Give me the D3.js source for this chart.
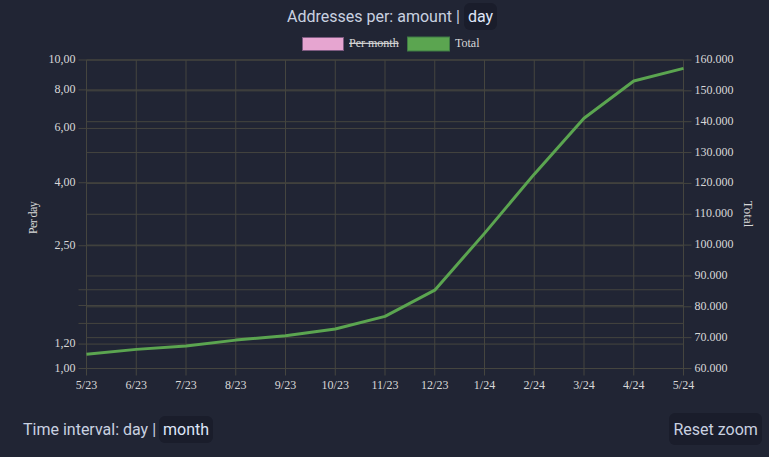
<!DOCTYPE html>
<html>
<head>
<meta charset="utf-8">
<script src="https://cdn.jsdelivr.net/npm/d3@7"></script>
<style>
html, body { margin: 0; padding: 0; background: #212534; overflow: hidden; }
svg { display: block; }
.ui { font-family: Roboto, sans-serif; font-size: 16px; fill: #c9d1e0; }
.ui.sel { fill: #dfe5f8; }
.tick text, .lab { font-family: "Liberation Serif", serif; font-size: 12px; fill: #d8d8d8; }
</style>
</head>
<body>
<div id="chart"></div>
<script>
// months on the x axis
var months = ["5/23","6/23","7/23","8/23","9/23","10/23","11/23","12/23","1/24","2/24","3/24","4/24","5/24"];
// total addresses
var totals = [64600,66200,67300,69200,70600,72800,76900,85400,103800,123000,141100,153200,157300];
// tick labels
var leftTicks = [10,8,6,4,2.5,1.8,1.6,1.4,1.2,1];
var leftLabelled = [10,8,6,4,2.5,1.2,1];
var rightTicks = [60000,70000,80000,90000,100000,110000,120000,130000,140000,150000,160000];

var W = 769, H = 457;
var left = 86.5, right = 683.5, top_ = 60, bottom = 368.5;
var gridColor = "#45453f";

var svg = d3.select("#chart").append("svg").attr("width", W).attr("height", H);

var x = d3.scalePoint().domain(months).range([left, right]);
var yL = d3.scaleLog().domain([1, 10]).range([bottom, top_]);
var yR = d3.scaleLinear().domain([60000, 160000]).range([bottom, top_]);

var numDe = d3.formatLocale({decimal: ",", thousands: ".", grouping: [3], currency: ["", ""]});

//Axes, long ticks make the grid
var gx = svg.append("g").attr("transform", "translate(0," + bottom + ")")
    .call(d3.axisBottom(x).offset(0).tickPadding(0));
gx.selectAll(".tick line").attr("y2", -(bottom - top_)).attr("y1", 7);
gx.selectAll(".tick text").attr("y", 12).attr("dy", "0.71em");

var gl = svg.append("g").attr("transform", "translate(" + left + ",0)")
    .call(d3.axisLeft(yL).offset(0).tickValues(leftTicks)
        .tickFormat(function(d) { return leftLabelled.indexOf(d) >= 0 ? numDe.format(",.2f")(d) : ""; }));
gl.selectAll(".tick line").attr("x1", -8).attr("x2", right - left);
gl.selectAll(".tick text").attr("x", -11).attr("dy", "0.25em");

var gr = svg.append("g").attr("transform", "translate(" + right + ",0)")
    .call(d3.axisRight(yR).offset(0).tickValues(rightTicks).tickFormat(numDe.format(",d")));
gr.selectAll(".tick line").attr("x1", -(right - left)).attr("x2", 8);
gr.selectAll(".tick text").attr("x", 11).attr("dy", "0.25em");

svg.selectAll(".domain").remove();
svg.selectAll(".tick line").attr("stroke", gridColor).attr("stroke-width", 1);

// axis titles
svg.append("text").attr("class", "lab").style("letter-spacing", "-0.6px")
    .attr("transform", "translate(37,218) rotate(-90)").attr("text-anchor", "middle").text("Per day");
svg.append("text").attr("class", "lab").style("font-size", "13px")
    .attr("transform", "translate(744,214) rotate(90)").attr("text-anchor", "middle").text("Total");

// Total line
var line = d3.line().x(function(d, i) { return x(months[i]); }).y(function(d) { return yR(d); });
svg.append("path").datum(totals).attr("d", line)
    .attr("fill", "none").attr("stroke", "#5ba550").attr("stroke-width", 3).attr("stroke-linejoin", "round");

// legend
svg.append("rect").attr("x", 302.5).attr("y", 37.5).attr("width", 41).attr("height", 13)
    .attr("fill", "#e6a5d0").attr("stroke", "#7d5a80");
svg.append("text").attr("class", "lab").attr("x", 349).attr("y", 47)
    .attr("text-decoration", "line-through").text("Per month");
svg.append("rect").attr("x", 407.5).attr("y", 37).attr("width", 42).attr("height", 14)
    .attr("fill", "#5ba550").attr("stroke", "#3f7a45");
svg.append("text").attr("class", "lab").attr("x", 455).attr("y", 47).text("Total");

// title row and buttons
function button(x0, y0, w, h) {
    svg.append("rect").attr("x", x0).attr("y", y0).attr("width", w).attr("height", h)
        .attr("rx", 6).attr("fill", "#1a1d2b");
}
function label(x0, y0, txt, cls) {
    svg.append("text").attr("class", cls).attr("x", x0).attr("y", y0).text(txt);
}
button(464, 3, 33, 27);
label(287, 22, "Addresses per: amount |", "ui");
label(468, 22, "day", "ui sel");
button(159, 416, 54, 27);
label(23, 435, "Time interval: day |", "ui");
label(163, 435, "month", "ui sel");
button(669, 413, 93, 32);
label(673.5, 435, "Reset zoom", "ui");
</script>
</body>
</html>
